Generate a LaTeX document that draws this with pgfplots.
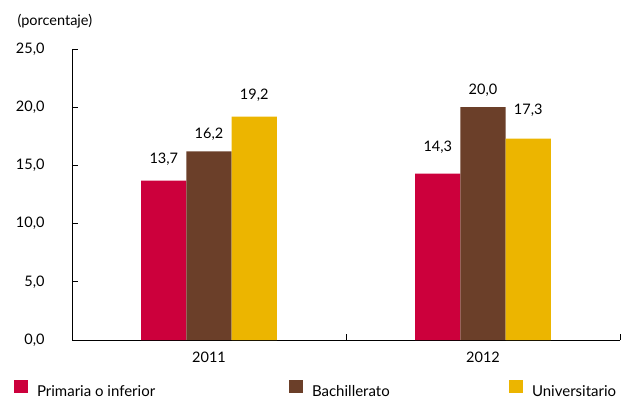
\documentclass[border=0pt]{standalone}
\usepackage{fontspec}
\setmainfont{Lato}
\usepackage{pgfplots}
\pgfplotsset{compat=1.18}
\definecolor{cred}{RGB}{204,0,60}
\definecolor{cbrown}{RGB}{107,63,41}
\definecolor{cyellow}{RGB}{236,181,0}
\begin{document}
\begin{tikzpicture}[font=\fontsize{14.5}{17}\selectfont]
\useasboundingbox (0,0) rectangle (621pt,399pt);
\begin{axis}[
  at={(72pt,59pt)}, anchor=south west,
  width=548pt, height=291pt, scale only axis,
  ybar, bar width=0.165,
  xmin=-0.5, xmax=1.5, ymin=0, ymax=25,
  axis x line*=bottom, axis y line*=left,
  axis line style={black, line width=0.8pt},
  tick style={black, line width=0.8pt},
  tick align=inside, major tick length=6pt,
  xtick={0.5,1.5}, xticklabels={},
  extra x ticks={0,1}, extra x tick labels={2011,2012},
  extra x tick style={major tick length=0pt, grid=none,
    xticklabel style={yshift=-8pt}},
  ytick={0,5,10,15,20,25},
  yticklabel style={xshift=-24pt},
  /pgf/number format/.cd, use comma, fixed, fixed zerofill, precision=1, assume math mode=true,
  /pgfplots/.cd,
  visualization depends on={\thisrow{s} \as \lshift},
  nodes near coords,
  nodes near coords style={black, yshift=\lshift pt},
  legend columns=3,
  legend style={at={(axis description cs:-0.1058,-0.1684)}, anchor=west,
    draw=none, fill=none, inner sep=0pt, outer sep=0pt,
    font=\fontsize{15}{18}\selectfont,
    /tikz/every odd column/.append style={column sep=9pt},
    nodes={inner sep=0pt}},
  legend image code/.code={\fill[#1] (0pt,-1pt) rectangle (14pt,12pt);},
]
\addplot[fill=cred, draw=none, bar shift=-0.165] table[x=x, y=y] {
x y s
0 13.7 11.7
1 14.3 16.2
};
\addplot[fill=cbrown, draw=none, bar shift=0] table[x=x, y=y] {
x y s
0 16.2 7.4
1 20.0 7.1
};
\addplot[fill=cyellow, draw=none, bar shift=0.165] table[x=x, y=y] {
x y s
0 19.2 11.4
1 17.3 18.7
};
\legend{\makebox[252pt][l]{Primaria o inferior},\makebox[197pt][l]{Bachillerato},Universitario}
\end{axis}
\node[anchor=base west] at (14pt,399pt-26pt) {(porcentaje)};
\end{tikzpicture}
\end{document}
